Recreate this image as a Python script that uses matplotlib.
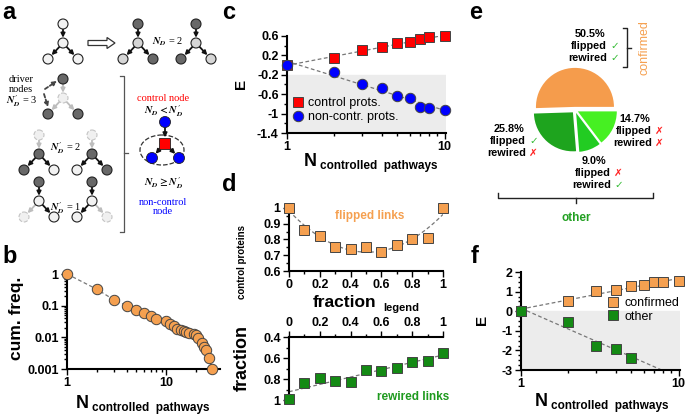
import numpy as np
import matplotlib.pyplot as plt
from matplotlib.patches import Circle, Rectangle, Ellipse, FancyArrow
from matplotlib.ticker import MultipleLocator, LogLocator, NullFormatter

plt.rcParams['font.family'] = ['Liberation Sans', 'DejaVu Sans']
plt.rcParams['font.weight'] = 'bold'
plt.rcParams['mathtext.fontset'] = 'stix'

# ---- data ----
# b: cumulative frequency of controlled pathways
b_n = [1, 2, 3, 4, 5, 6, 7, 8, 10, 11, 12, 13, 14, 15, 16, 17, 19, 20, 21, 23, 24, 25, 27, 29]
b_freq = [1.0, 0.33, 0.15, 0.10, 0.073, 0.057, 0.047, 0.038, 0.034, 0.026, 0.022, 0.019,
          0.017, 0.016, 0.015, 0.014, 0.0125, 0.0115, 0.0093, 0.0068, 0.0051, 0.004, 0.0022, 0.001]

# c: E vs N controlled pathways
c_n = [1, 2, 3, 4, 5, 6, 7, 8, 10]
c_control = [0.0, 0.15, 0.31, 0.37, 0.45, 0.47, 0.53, 0.57, 0.59]
c_noncontrol = [0.0, -0.15, -0.38, -0.48, -0.63, -0.67, -0.86, -0.88, -0.92]

# d: fraction of control proteins vs fraction of links
d_frac = [0.0, 0.1, 0.2, 0.3, 0.4, 0.5, 0.6, 0.7, 0.8, 0.9, 1.0]
d_flipped = [1.0, 0.86, 0.82, 0.75, 0.74, 0.755, 0.72, 0.765, 0.80, 0.81, 1.0]
d_rewired = [0.99, 0.84, 0.795, 0.815, 0.825, 0.71, 0.72, 0.695, 0.64, 0.63, 0.55]

# e: pie shares
e_share = [50.5, 25.8, 9.0, 14.7]
e_colors = ['#F59C4C', '#1EA41E', '#22CC22', '#46F022']

# f: E vs N for confirmed / other
f_n_conf = [1, 2, 3, 4, 5, 6, 7, 8, 10]
f_conf = [0.0, 0.53, 1.04, 1.1, 1.27, 1.35, 1.47, 1.47, 1.52]
f_n_other = [1, 2, 3, 4, 5]
f_other = [0.0, -0.53, -1.77, -1.92, -2.37]

ORANGE = '#F5A050'
GREEN = '#148A14'
EDGE = '#444444'

W, H = 685, 415
fig = plt.figure(figsize=(6.85, 4.15), dpi=100)


def box(l, t, r, b):
    return [l / W, 1 - b / H, (r - l) / W, (b - t) / H]


def style(ax, sides=('left', 'bottom')):
    for s in ['top', 'right', 'left', 'bottom']:
        ax.spines[s].set_visible(s in sides)
        ax.spines[s].set_linewidth(1.5)
    ax.tick_params(which='both', direction='out', width=1, labelsize=9, pad=2)
    ax.tick_params(which='major', length=4)
    ax.tick_params(which='minor', length=2.5)


def dashed(ax, x, y):
    ax.plot(x, y, ls=(0, (3, 2)), color='#777777', lw=0.9, zorder=2)


# ---- b ----
axb = fig.add_axes(box(67, 274, 220, 369))
dashed(axb, b_n, b_freq)
axb.plot(b_n, b_freq, 'o', ms=7.5, mfc=ORANGE, mec=EDGE, mew=0.7, clip_on=False, zorder=3)
axb.set_xscale('log')
axb.set_yscale('log')
axb.set_xlim(1, 35)
axb.set_ylim(0.001, 1)
style(axb)
axb.set_xticks([1, 10], ['1', '10'])
axb.set_yticks([0.001, 0.01, 0.1, 1], ['0.001', '0.01', '0.1', '1'])
axb.xaxis.set_minor_locator(LogLocator(subs=np.arange(2, 10)))
axb.yaxis.set_minor_locator(LogLocator(subs=np.arange(2, 10)))
axb.xaxis.set_minor_formatter(NullFormatter())
axb.yaxis.set_minor_formatter(NullFormatter())

# ---- c ----
axc = fig.add_axes(box(287, 36, 446, 133))
axc.axhspan(-1.4, -0.2, color='#ececec', zorder=0)
xs = np.log10(c_n)
for vals in (c_control, c_noncontrol):
    p = np.polyfit(xs, vals, 1)
    dashed(axc, [1, 10], np.polyval(p, [0, 1]))
axc.plot(c_n, c_control, 's', ms=7, mfc='#FF0000', mec=EDGE, mew=0.7, clip_on=False, zorder=3,
         label='control prots.')
axc.plot(c_n, c_noncontrol, 'o', ms=7.5, mfc='#0000FF', mec=EDGE, mew=0.7, clip_on=False, zorder=3,
         label='non-contr. prots.')
axc.set_xscale('log')
axc.set_xlim(1, 10.2)
axc.set_ylim(-1.4, 0.6)
style(axc)
axc.set_xticks([1, 10], ['1', '10'])
axc.xaxis.set_minor_formatter(NullFormatter())
axc.set_yticks([-1.4, -1, -0.6, -0.2, 0.2, 0.6], ['-1.4', '-1', '-0.6', '-0.2', '0.2', '0.6'])
axc.yaxis.set_minor_locator(MultipleLocator(0.2))
axc.legend(loc='upper left', bbox_to_anchor=(0.03, 0.37), frameon=False,
           prop={'weight': 'normal', 'size': 9}, handletextpad=0.3, labelspacing=0.15,
           borderaxespad=0, handlelength=1.0, borderpad=0)

# ---- d top ----
axd1 = fig.add_axes(box(289, 208, 443, 271))
p = np.polyfit(d_frac, d_flipped, 2)
xx = np.linspace(0, 1, 50)
dashed(axd1, xx, np.polyval(p, xx))
axd1.plot(d_frac, d_flipped, 's', ms=7, mfc=ORANGE, mec=EDGE, mew=0.7, clip_on=False, zorder=3)
axd1.set_xlim(0, 1)
axd1.set_ylim(0.6, 1)
style(axd1)
axd1.set_xticks([0, 0.2, 0.4, 0.6, 0.8, 1], ['0', '0.2', '0.4', '0.6', '0.8', '1'])
axd1.set_yticks([0.6, 0.7, 0.8, 0.9, 1], ['0.6', '0.7', '0.8', '0.9', '1'])
axd1.xaxis.set_minor_locator(MultipleLocator(0.1))
axd1.yaxis.set_minor_locator(MultipleLocator(0.05))

# ---- d bottom ----
axd2 = fig.add_axes(box(289, 337, 443, 400))
p = np.polyfit(d_frac, d_rewired, 1)
dashed(axd2, [0, 1], np.polyval(p, [0, 1]))
axd2.plot(d_frac, d_rewired, 's', ms=7, mfc=GREEN, mec=EDGE, mew=0.7, clip_on=False, zorder=3)
axd2.set_xlim(0, 1)
axd2.set_ylim(1, 0.4)
style(axd2, sides=('left', 'top'))
axd2.xaxis.tick_top()
axd2.set_xticks([0, 0.2, 0.4, 0.6, 0.8, 1], ['0', '0.2', '0.4', '0.6', '0.8', '1'])
axd2.set_yticks([0.4, 0.6, 0.8, 1], ['0.4', '0.6', '0.8', '1'])
axd2.xaxis.set_minor_locator(MultipleLocator(0.1))
axd2.yaxis.set_minor_locator(MultipleLocator(0.1))

# ---- e pie ----
r_px = 39
axe = fig.add_axes(box(575 - 1.3 * r_px, 110 - 1.3 * r_px, 575 + 1.3 * r_px, 110 + 1.3 * r_px))
axe.pie(e_share, colors=e_colors, startangle=0, counterclock=True,
        explode=[0.08, 0.08, 0.08, 0.08], wedgeprops={'linewidth': 0})
axe.set_xlim(-1.3, 1.3)
axe.set_ylim(-1.3, 1.3)
axe.set_aspect('equal')
axe.axis('off')

# ---- f ----
axf = fig.add_axes(box(521, 272, 680, 370))
axf.axhspan(-3, 0, color='#ececec', zorder=0)
p = np.polyfit(np.log10(f_n_conf), f_conf, 1)
dashed(axf, [1, 10], np.polyval(p, [0, 1]))
p = np.polyfit(np.log10(f_n_other), f_other, 1)
dashed(axf, [1, 10], np.polyval(p, [0, 1]))
axf.plot(f_n_conf, f_conf, 's', ms=7.5, mfc=ORANGE, mec=EDGE, mew=0.7, clip_on=False, zorder=3,
         label='confirmed')
axf.plot(f_n_other, f_other, 's', ms=7.5, mfc=GREEN, mec=EDGE, mew=0.7, clip_on=False, zorder=3,
         label='other')
axf.set_xscale('log')
axf.set_xlim(1, 10.2)
axf.set_ylim(-3, 2)
style(axf)
axf.set_xticks([1, 10], ['1', '10'])
axf.xaxis.set_minor_formatter(NullFormatter())
axf.set_yticks([-3, -2, -1, 0, 1, 2], ['-3', '-2', '-1', '0', '1', '2'])
axf.yaxis.set_minor_locator(MultipleLocator(0.25))
axf.legend(loc='upper left', bbox_to_anchor=(0.54, 0.74), frameon=False,
           prop={'weight': 'normal', 'size': 9}, handletextpad=0.4, labelspacing=0.1,
           borderaxespad=0, handlelength=1.0, borderpad=0)

# ---- overlay: panel a, labels, annotations ----
ax0 = fig.add_axes([0, 0, 1, 1])
ax0.set_xlim(0, W)
ax0.set_ylim(H, 0)
ax0.axis('off')

WH, LG, DK, FT = '#f2f2f2', '#d6d6d6', '#686868', '#f0f0f0'
K, G = '#111111', '#bdbdbd'


def node(x, y, fc, faint=False):
    ax0.add_patch(Circle((x, y), 5, fc=fc, ec='#c4c4c4' if faint else '#222222',
                         lw=0.8, ls='--' if faint else '-', zorder=3))


def arrow(x1, y1, x2, y2, color=K, ls='-'):
    ax0.annotate('', xy=(x2, y2), xytext=(x1, y1),
                 arrowprops=dict(arrowstyle='-|>', color=color, lw=1.3, ls=ls,
                                 mutation_scale=6, shrinkA=3.8, shrinkB=3.8))


def tree(cx, cy, colors, acol, faint=()):
    pts = [(cx, cy - 19), (cx, cy), (cx - 15, cy + 16), (cx + 15, cy + 16)]
    for (a, b), c in zip([(0, 1), (1, 2), (1, 3)], acol):
        arrow(*pts[a], *pts[b], color=c)
    for i, (pt, fc) in enumerate(zip(pts, colors)):
        node(*pt, fc, faint=i in faint)


serif = {'family': 'Liberation Serif', 'weight': 'normal'}
NDP = r"$N^{\prime}_{D}$"
tree(63, 43, [WH, WH, WH, WH], [K, K, K])
ax0.add_patch(FancyArrow(88, 43, 19, 0, width=5, head_width=11, head_length=8,
                         length_includes_head=False, fc='white', ec='#333333', lw=0.9))
tree(138, 43, [DK, LG, LG, DK], [K, K, K])
tree(196, 43, [DK, LG, DK, LG], [K, K, K])
ax0.text(168, 42, r"$N_D$ = 2", fontsize=7.5, ha='center', va='center', **serif)

tree(63, 98, [DK, FT, DK, DK], [G, G, G], faint=(1,))
ax0.text(21, 80, 'driver', fontsize=7.5, ha='center', va='center', **serif)
ax0.text(21, 90, 'nodes', fontsize=7.5, ha='center', va='center', **serif)
ax0.text(22, 101, NDP + " = 3", fontsize=7.5, ha='center', va='center', **serif)
ax0.annotate('', xy=(57, 81), xytext=(45, 89),
             arrowprops=dict(arrowstyle='-|>', color='#444444', lw=1.3, ls=(0, (2, 1.2)),
                             mutation_scale=6, shrinkA=0, shrinkB=0))
ax0.annotate('', xy=(48, 107), xytext=(44, 94),
             arrowprops=dict(arrowstyle='-|>', color='#444444', lw=1.3, ls=(0, (2, 1.2)),
                             mutation_scale=6, shrinkA=0, shrinkB=0))

tree(39, 154, [FT, DK, DK, WH], [G, K, K], faint=(0,))
tree(92, 154, [FT, DK, WH, DK], [G, K, K], faint=(0,))
ax0.text(66, 148, NDP + " = 2", fontsize=7.5, ha='center', va='center', **serif)
tree(39, 201, [DK, WH, FT, WH], [K, G, K], faint=(2,))
tree(92, 201, [DK, WH, WH, FT], [K, K, G], faint=(3,))
ax0.text(66, 208, NDP + " = 1", fontsize=7.5, ha='center', va='center', **serif)

# bracket
ax0.plot([120, 124, 124, 120], [76, 76, 232, 232], color='#555555', lw=0.9)
ax0.plot([124, 128], [153, 153], color='#555555', lw=0.9)

# control node schematic
ax0.text(163, 98, 'control node', color='#ff0000', fontsize=7.5, ha='center', va='center', **serif)
ax0.text(163, 111, r"$N_D < N^{\prime}_{D}$", fontsize=7.5, ha='center', va='center', **serif)
ax0.add_patch(Ellipse((162, 150), 44, 30, fill=False, ec='#333333', lw=0.9, ls='--'))
for (x1, y1, x2, y2) in [(165, 122, 165, 143), (165, 143, 152, 158), (165, 143, 179, 158)]:
    ax0.annotate('', xy=(x2, y2), xytext=(x1, y1),
                 arrowprops=dict(arrowstyle='-|>', color=K, lw=1.3, mutation_scale=6,
                                 shrinkA=4, shrinkB=4))
ax0.add_patch(Circle((165, 122), 5.5, fc='#0000ff', ec='#222222', lw=0.6, zorder=3))
ax0.add_patch(Circle((152, 158), 5.5, fc='#0000ff', ec='#222222', lw=0.6, zorder=3))
ax0.add_patch(Circle((179, 158), 5.5, fc='#0000ff', ec='#222222', lw=0.6, zorder=3))
ax0.add_patch(Rectangle((159.5, 137.5), 11, 11, fc='#ff0000', ec='#222222', lw=0.6, zorder=3))
ax0.text(163, 183, r"$N_D \geq N^{\prime}_{D}$", fontsize=7.5, ha='center', va='center', **serif)
ax0.text(163, 207, 'non-control\nnode', color='#0000ff', fontsize=7.5, ha='center',
         va='center', linespacing=1.0, **serif)

# panel letters
for lab, x, y in [('a', 2, 1), ('b', 2, 245), ('c', 222, 1), ('d', 222, 173), ('e', 469, 1), ('f', 471, 245)]:
    ax0.text(x, y, lab, fontsize=17, fontweight='bold', ha='left', va='top')


def nlabel(x, y):
    ax0.text(x, y, 'N', fontsize=13, fontweight='bold', ha='center', va='center')
    ax0.text(x + 10, y + 5, 'controlled  pathways', fontsize=8.5, fontweight='bold', ha='left', va='center')


# b labels
ax0.text(17, 318, 'cum. freq.', fontsize=12.5, rotation=90, ha='center', va='center')
nlabel(82, 403)
# c labels
ax0.text(241, 84, 'E', fontsize=11, rotation=90, ha='center', va='center')
nlabel(310, 161)
# d labels
ax0.text(345, 302, 'fraction', fontsize=12.5, ha='center', va='center')
ax0.text(383, 308, 'legend', fontsize=8, ha='left', va='center')
ax0.text(242, 262, 'control proteins', fontsize=7, rotation=90, ha='center', va='center')
ax0.text(242, 358, 'fraction', fontsize=13, rotation=90, ha='center', va='center')
ax0.text(370, 216, 'flipped links', fontsize=8.5, color='#F5A050', ha='center', va='center')
ax0.text(413, 397, 'rewired links', fontsize=8.5, color='#1E9A1E', ha='center', va='center')
# f labels
ax0.text(482, 320, 'E', fontsize=11, rotation=90, ha='center', va='center')
nlabel(541, 401)

# e annotations
CHK, CRS = '\u2713', '\u2717'
fam = ['Liberation Sans', 'DejaVu Sans']


def pie_label(xr, y, pct, f_ok, r_ok):
    ax0.text(xr - 17, y, pct, fontsize=7.8, ha='center', va='center')
    for dy, word, ok in [(12, 'flipped', f_ok), (24, 'rewired', r_ok)]:
        ax0.text(xr, y + dy, word, fontsize=7.8, ha='right', va='center')
        ax0.text(xr + 3, y + dy, CHK if ok else CRS, fontsize=7.5, family=fam, fontweight='normal',
                 color='#33bb33' if ok else '#ff2222', ha='left', va='center')


pie_label(607, 34, '50.5%', True, True)
pie_label(652, 119, '14.7%', False, False)
pie_label(526, 129, '25.8%', True, False)
pie_label(611, 161, '9.0%', False, True)

ax0.plot([623, 627, 627, 623], [28, 28, 67, 67], color='#222222', lw=1.0)
ax0.plot([627, 631], [48, 48], color='#222222', lw=1.0)
ax0.text(645, 48, 'confirmed', fontsize=9, fontweight='normal', color='#F5A050', rotation=90,
         ha='center', va='center')
ax0.plot([498, 498, 653, 653], [193, 198, 198, 193], color='#222222', lw=1.0)
ax0.plot([576, 576], [198, 203], color='#222222', lw=1.0)
ax0.text(576, 218, 'other', fontsize=8.5, color='#22A022', ha='center', va='center')

fig.savefig('out.png', dpi=100)
